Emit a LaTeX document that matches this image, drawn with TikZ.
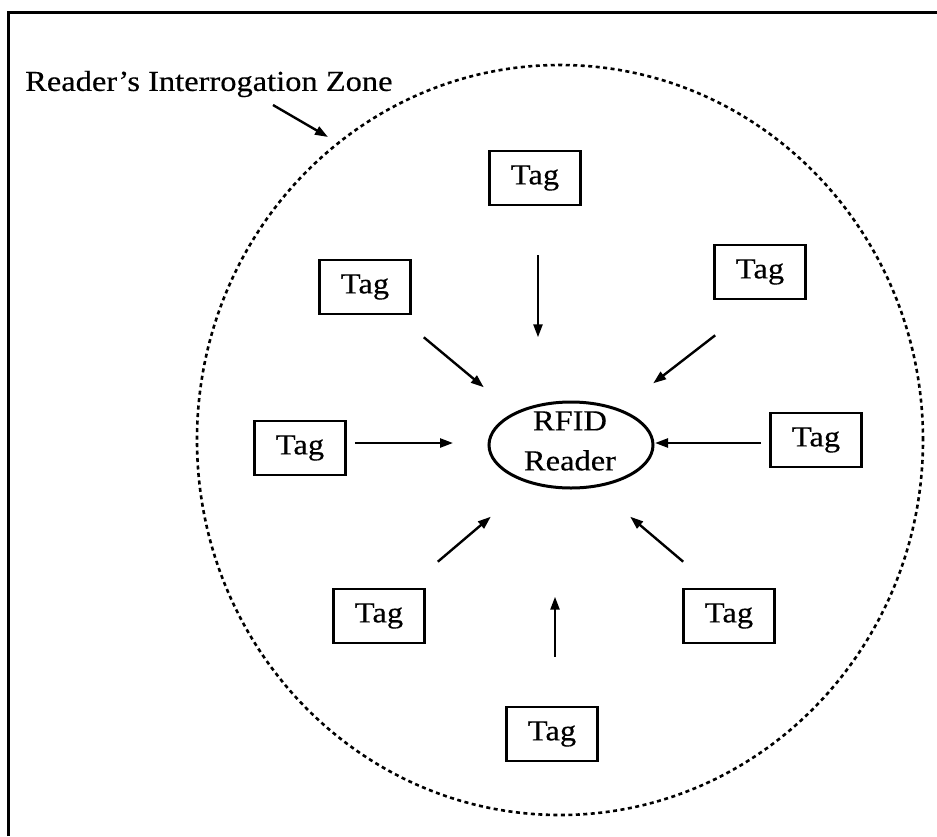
\documentclass[tikz,border=0pt]{standalone}
\usepackage{fontspec}
\setmainfont{Liberation Serif}[FakeStretch=1.12,FakeBold=0.4]
\usetikzlibrary{arrows.meta,shapes.geometric}
\begin{document}
\begin{tikzpicture}[x=1pt,y=-1pt,
  txt/.style={font=\fontsize{29}{40}\selectfont},
  tagbox/.style={draw,line width=2.6pt,minimum width=91pt,minimum height=54pt,inner sep=0pt,txt},
  link/.style={line width=2.4pt,-{Triangle[length=13pt,width=9pt]}},
]
\useasboundingbox (0,0) rectangle (937,836);
% page frame (top and left edges)
\draw[line width=3pt] (8,836) -- (8,12) -- (937,12);

% interrogation zone
\node[ellipse,draw,line width=2.6pt,dash pattern=on 4pt off 3.5pt,
      minimum width=726pt,minimum height=750pt,inner sep=0pt] (zone) at (560,440) {};
\node[txt,anchor=west,inner sep=0pt] (zlabel) at (25,84) {Reader's Interrogation Zone};
\coordinate (zarrow) at (273,105);
\coordinate (zhit) at (328,137);
\draw[link] (zarrow) -- (zhit);

% reader
\node[ellipse,draw,line width=3pt,minimum width=164pt,minimum height=86pt,inner sep=0pt] (reader) at (571,445) {};
\node[txt,align=center,inner sep=0pt] (rtext) at (570,441) {RFID\\Reader};

% tags
\node[tagbox] (tT)  at (535,178) {Tag};
\node[tagbox] (tUL) at (365,287) {Tag};
\node[tagbox] (tUR) at (760,272) {Tag};
\node[tagbox] (tL)  at (300,448) {Tag};
\node[tagbox] (tR)  at (816,440) {Tag};
\node[tagbox] (tLL) at (379,616) {Tag};
\node[tagbox] (tLR) at (729,616) {Tag};
\node[tagbox] (tB)  at (552,734) {Tag};

% signals towards the reader
\draw[link] ([shift={(3,49)}]tT.south) -- ++(0,82);
\draw[link] ([shift={(12,22)}]tUL.south east) -- ++(60,50);
\draw[link] ([shift={(2,35)}]tUR.south west) -- ++(-62,48);
\draw[link] ([shift={(8,-5)}]tL.east) -- (453,443);
\draw[link] ([shift={(-8,3)}]tR.west) -- (655,443);
\draw[link] ([shift={(12,-26)}]tLL.north east) -- ++(53,-45);
\draw[link] ([shift={(1,-26)}]tLR.north west) -- ++(-53,-45);
\draw[link] ([shift={(3,-49)}]tB.north) -- ++(0,-60);
\end{tikzpicture}
\end{document}
